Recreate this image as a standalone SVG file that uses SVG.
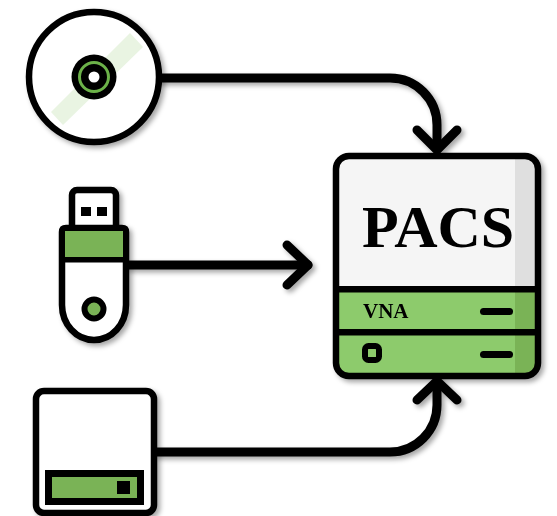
<svg xmlns="http://www.w3.org/2000/svg" width="557" height="516" viewBox="0 0 557 516">
<style>
.k{fill:none;stroke:#000;stroke-width:6.5;stroke-linejoin:round;stroke-linecap:round}
.c{fill:none;stroke:#000;stroke-width:9;stroke-linecap:round;stroke-linejoin:round}
.g{fill:#7ab357}
.lg{fill:#8dcb6c}
.t{font-family:"Liberation Serif",serif;font-weight:bold;fill:#000}
</style>
<defs>
<filter id="s" x="-20%" y="-20%" width="140%" height="140%"><feDropShadow dx="3" dy="3" stdDeviation="2.8" flood-color="#000" flood-opacity="0.35"/></filter>
<clipPath id="pc"><rect x="336" y="156" width="202" height="220" rx="13"/></clipPath>
</defs>
<rect width="557" height="516" fill="#fff"/>
<g id="connectors" filter="url(#s)">
<path class="c" d="M160 78H390A47 47 0 0 1 437 125V149"/>
<path class="c" d="M417 130L437 150L457 130"/>
<path class="c" d="M129 265H308"/>
<path class="c" d="M287 245L308 265L287 285"/>
<path class="c" d="M157 452H390A47 47 0 0 0 437 405V383"/>
<path class="c" d="M417 400L437 381L457 400"/>
</g>
<g id="cd" filter="url(#s)">
<circle cx="94" cy="77" r="65" fill="#fff" stroke="#000" stroke-width="6.5"/>
<polygon points="130,33 143,47 63,125 51,112" fill="#e9f4e2"/>
<circle cx="94" cy="77" r="22.5" fill="#000"/>
<circle cx="94" cy="77" r="14.5" fill="#000" stroke="#6cb24a" stroke-width="3"/>
<circle cx="94" cy="77" r="5.5" fill="#fff"/>
</g>
<g id="usb" filter="url(#s)">
<rect x="72" y="190" width="44" height="40" rx="5" fill="#fff" stroke="#000" stroke-width="6.5"/>
<rect x="81" y="207" width="10" height="9"/>
<rect x="97" y="207" width="10" height="9"/>
<path d="M62 232Q62 228 66 228H122Q126 228 126 232V305A32 35 0 0 1 62 305Z" fill="#fff" stroke="#000" stroke-width="6.5" stroke-linejoin="round"/>
<rect class="g" x="65" y="231" width="58" height="27"/>
<rect x="62" y="257" width="64" height="5.5"/>
<circle cx="94" cy="309" r="9.5" class="g" stroke="#000" stroke-width="6"/>
</g>
<g id="drive" filter="url(#s)">
<rect x="36" y="391" width="118" height="122" rx="8" fill="#fff" stroke="#000" stroke-width="6.5"/>
<rect x="45" y="470" width="99" height="35"/>
<rect class="g" x="52" y="477" width="85" height="21"/>
<rect x="117" y="481" width="13" height="13"/>
</g>
<g id="pacs" filter="url(#s)">
<rect x="336" y="156" width="202" height="220" rx="13" fill="#f5f5f5"/>
<g clip-path="url(#pc)">
<rect x="515" y="156" width="23" height="130" fill="#dfdfdf"/>
<rect class="lg" x="336" y="289" width="202" height="90"/>
<rect class="g" x="515" y="289" width="23" height="90"/>
</g>
<rect x="336" y="156" width="202" height="220" rx="13" class="k"/>
<rect x="336" y="286" width="202" height="6.5"/>
<rect x="336" y="329" width="202" height="6.5"/>
<rect x="480" y="308" width="33" height="7" rx="3.5"/>
<rect x="480" y="351" width="33" height="7" rx="3.5"/>
<rect x="365" y="346" width="14" height="14" rx="3.5" fill="none" stroke="#000" stroke-width="6"/>
<text class="t" x="362" y="247" font-size="60">PACS</text>
<text class="t" x="363" y="318" font-size="21">VNA</text>
</g>
</svg>
